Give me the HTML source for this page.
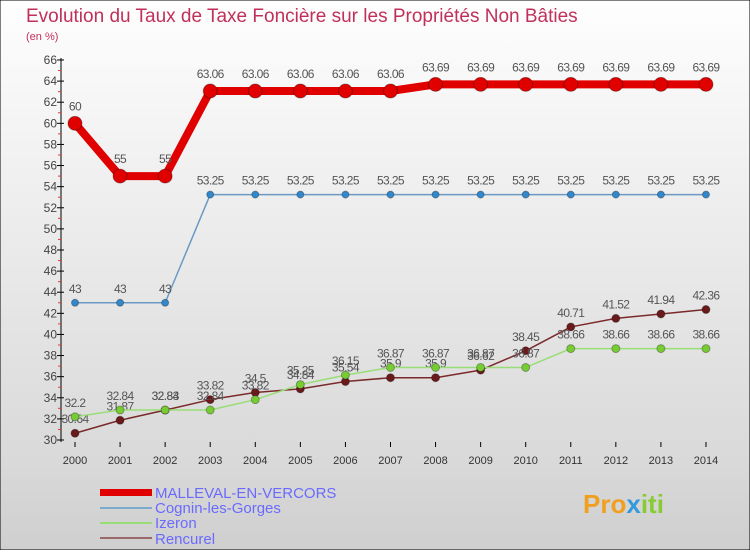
<!DOCTYPE html>
<html><head><meta charset="utf-8"><style>
body{margin:0;width:750px;height:550px;overflow:hidden;font-family:"Liberation Sans",sans-serif}
svg text{font-family:"Liberation Sans",sans-serif}
</style></head><body>
<svg id="c" width="750" height="550">
<defs>
<linearGradient id="bg" x1="0" y1="0" x2="0" y2="1"><stop offset="0" stop-color="#fefefe"/><stop offset="1" stop-color="#d2d2d2"/></linearGradient>
<linearGradient id="lg" x1="0" y1="0" x2="0" y2="1"><stop offset="0" stop-color="#d8d8d8"/><stop offset="1" stop-color="#cfcfcf"/></linearGradient>
</defs>
<rect x="0" y="0" width="750" height="550" fill="url(#bg)" stroke="#000"/>
<rect x="1" y="470" width="748" height="79" fill="url(#lg)"/>
<text x="26" y="22" font-size="19" fill="#c0305a">Evolution du Taux de Taxe Foncière sur les Propriétés Non Bâties</text>
<text x="26" y="40" font-size="11" fill="#c0305a">(en %)</text>
<g id="axes"></g><g id="series"></g>
<g>
<rect x="100" y="489" width="52" height="7" fill="#e00000"/>
<text x="155" y="498" font-size="15" fill="#6a6aff">MALLEVAL-EN-VERCORS</text>
<rect x="100" y="507" width="52" height="2" fill="#7aaacc"/>
<text x="155" y="513" font-size="15" fill="#6a6aff">Cognin-les-Gorges</text>
<rect x="100" y="522" width="52" height="2" fill="#99dd77"/>
<text x="155" y="528" font-size="15" fill="#6a6aff">Izeron</text>
<rect x="100" y="537" width="52" height="2" fill="#9a6a6a"/>
<text x="155" y="544" font-size="15" fill="#6a6aff">Rencurel</text>
</g>
<text x="583" y="513" font-size="26" font-weight="bold" fill="#f0a020">Pro<tspan fill="#3399dd">x</tspan><tspan fill="#88cc33">iti</tspan></text>
</svg>
<script>
const years=[2000,2001,2002,2003,2004,2005,2006,2007,2008,2009,2010,2011,2012,2013,2014];
const malleval=[60,55,55,63.06,63.06,63.06,63.06,63.06,63.69,63.69,63.69,63.69,63.69,63.69,63.69];
const cognin=[43,43,43,53.25,53.25,53.25,53.25,53.25,53.25,53.25,53.25,53.25,53.25,53.25,53.25];
const izeron=[32.2,32.84,32.84,32.84,33.82,35.25,36.15,36.87,36.87,36.87,36.87,38.66,38.66,38.66,38.66];
const rencurel=[30.64,31.87,32.83,33.82,34.5,34.84,35.54,35.9,35.9,36.62,38.45,40.71,41.52,41.94,42.36];
const yTicks=[30,32,34,36,38,40,42,44,46,48,50,52,54,56,58,60,62,64,66];
const NS="http://www.w3.org/2000/svg";
const X=i=>75+i*45.07, Y=v=>440-(v-30)*10.556;
function mk(t,a,p){const e=document.createElementNS(NS,t);for(const k in a)e.setAttribute(k,a[k]);p.appendChild(e);return e;}
const ax=document.getElementById('axes');
const yl=mk('line',{x1:61,y1:58,x2:61,y2:442,stroke:'#000'},ax);


yTicks.forEach(v=>{
 mk('line',{x1:57,y1:Y(v),x2:64,y2:Y(v),stroke:'#000'},ax);
 if(v<66) mk('line',{x1:58,y1:Y(v+1),x2:61,y2:Y(v+1),stroke:'#e33'},ax);
 const t=mk('text',{x:57,y:Y(v)+4,'font-size':12,fill:'#444','text-anchor':'end'},ax);t.textContent=v;
 
 
});
years.forEach((y,i)=>{
 mk('line',{x1:X(i),y1:442,x2:X(i),y2:447,stroke:'#000'},ax);
 const t=mk('text',{x:X(i),y:464,'font-size':11,fill:'#333','text-anchor':'middle'},ax);t.textContent=y;
 
 
});
const sg=document.getElementById('series');
function draw(d,name,col,dot,w,r,off){
 const g=mk('g',{},sg);
 
 
 const pl=mk('polyline',{points:d.map((v,i)=>X(i)+','+Y(v)).join(' '),fill:'none',stroke:col,'stroke-width':w,'stroke-linejoin':'round'},g);
 
 
 d.forEach((v,i)=>{
  const c=mk('circle',{cx:X(i),cy:Y(v),r:r,fill:dot,stroke:'rgba(0,0,0,0.3)'},g);
  
  
  const t=mk('text',{x:X(i),y:Y(v)-off,'font-size':12,fill:'#555','text-anchor':'middle','letter-spacing':'-0.6'},g);t.textContent=String(v);
  
  
 });
}
draw(rencurel,'rencurel','#7a2a2a','#6a1a1a',1.5,4,10);
draw(izeron,'izeron','#99dd77','#77cc33',1.5,4,10);
draw(cognin,'cognin','#6a9ac4','#3388cc',1.5,3.5,10);
draw(malleval,'malleval','#e00000','#e00000',8,7,13);
</script>
</body></html>
